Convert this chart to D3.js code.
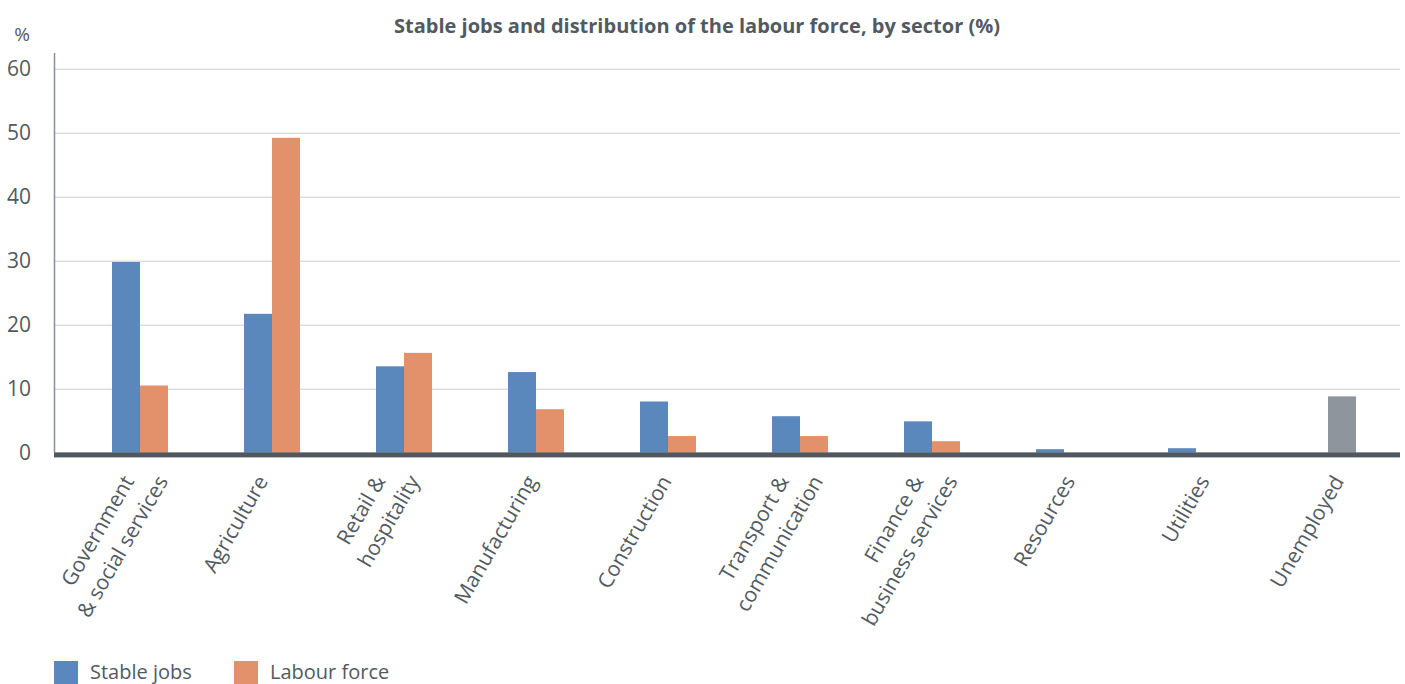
<!DOCTYPE html>
<html>
<head>
<meta charset="utf-8">
<script src="https://cdn.jsdelivr.net/npm/d3@7"></script>
<style>
  html, body { margin: 0; padding: 0; background: #ffffff; }
  svg { display: block; font-family: "Open Sans", "Noto Sans", sans-serif; }
</style>
</head>
<body>
<svg id="chart" width="1405" height="684"></svg>
<script>
// ---- data ----
const categories = ["Government & social services", "Agriculture", "Retail & hospitality", "Manufacturing",
  "Construction", "Transport & communication", "Finance & business services", "Resources", "Utilities", "Unemployed"];
const categoryLines = [["Government", "& social services"], ["Agriculture"], ["Retail &", "hospitality"], ["Manufacturing"],
  ["Construction"], ["Transport &", "communication"], ["Finance &", "business services"], ["Resources"], ["Utilities"], ["Unemployed"]];
const stableJobs  = [29.8, 21.7, 13.5, 12.6, 8.0, 5.7, 4.9, 0.55, 0.7, 0];
const labourForce = [10.5, 49.2, 15.6, 6.8, 2.6, 2.6, 1.8, 0, 0, 8.8];
const seriesNames = ["Stable jobs", "Labour force"];
const yTicks = [0, 10, 20, 30, 40, 50, 60];
const titleText = "Stable jobs and distribution of the labour force, by sector (%)";
const unitLabel = "%";
const highlightCategory = "Unemployed";

// ---- styles ----
const colors = { "Stable jobs": "#5a88bd", "Labour force": "#e3916a" };
const highlightColor = "#8e959c";
const textColor = "#525a61";

const svg = d3.select("#chart");
const plotLeft = 55, plotRight = 1400, plotTop = 68.7, plotBottom = 452.7;

const y = d3.scaleLinear().domain([0, 60]).range([plotBottom, plotTop]);
const xBars = d3.scaleBand().domain(categories).range([74, 1394]).padding(0);
const xSeries = d3.scaleBand().domain(seriesNames).range([0, xBars.bandwidth()]).paddingInner(0).paddingOuter(1.357);
const xLabels = d3.scaleBand().domain(categories).range([plotLeft, plotRight]).padding(0);

// title
svg.append("text").attr("x", 697).attr("y", 33).attr("text-anchor", "middle")
  .attr("font-size", 20).attr("font-weight", "bold").attr("fill", textColor).text(titleText);

// gridlines
const yAxis = d3.axisLeft(y).tickValues(yTicks).tickSize(-(plotRight - plotLeft)).tickFormat(d3.format("d")).tickPadding(24);
const gy = svg.append("g").attr("transform", `translate(${plotLeft},0)`).call(yAxis);
gy.select(".domain").remove();
gy.selectAll(".tick line").attr("stroke", "#dcdde1").attr("stroke-width", 1.5);
gy.selectAll(".tick text").attr("font-size", 21).attr("fill", textColor).attr("font-family", "Open Sans");

// unit label
svg.append("text").attr("x", 22).attr("y", 41).attr("text-anchor", "middle")
  .attr("font-size", 19).attr("fill", textColor).text(unitLabel);

// bars
const rows = categories.map((c, i) => ({ cat: c, values: [
  { s: "Stable jobs", v: stableJobs[i] }, { s: "Labour force", v: labourForce[i] }] }));
const groups = svg.append("g").selectAll("g").data(rows).join("g")
  .attr("transform", d => `translate(${xBars(d.cat)},0)`);
groups.selectAll("rect").data(d => d.values.map(v => ({ ...v, cat: d.cat }))).join("rect")
  .attr("x", d => xSeries(d.s)).attr("width", xSeries.bandwidth())
  .attr("y", d => y(d.v)).attr("height", d => y(0) - y(d.v))
  .attr("fill", d => d.cat === highlightCategory ? highlightColor : colors[d.s]);

// y axis line
svg.append("line").attr("x1", 54.5).attr("x2", 54.5).attr("y1", 53).attr("y2", plotBottom)
  .attr("stroke", "#8a8f95").attr("stroke-width", 1.5);

// baseline
svg.append("rect").attr("x", 54).attr("y", y(0) - 0.3).attr("width", plotRight - 54).attr("height", 5)
  .attr("fill", "#50585f");

// category labels (Excel-like: keep labels right of the axis edge)
const angle = -60;
const minLabelLeft = 54;
const labelG = svg.append("g");
categoryLines.forEach((lines, i) => {
  const cx = xLabels(categories[i]) + xLabels.bandwidth() / 2;
  const n = lines.length;
  const g = labelG.append("g");
  lines.forEach((line, j) => {
    const dx = (j - (n - 1) / 2) * 34;
    g.append("text")
      .attr("transform", `translate(${cx + 12 + dx},481) rotate(${angle})`)
      .attr("text-anchor", "end").attr("font-size", 21).attr("fill", textColor)
      .text(line);
  });
  const left = g.node().getBoundingClientRect().left;
  if (left < minLabelLeft) g.attr("transform", `translate(${minLabelLeft - left},0)`);
});

// legend
const legend = svg.append("g");
const legendX = [54, 234];
seriesNames.forEach((s, i) => {
  legend.append("rect").attr("x", legendX[i]).attr("y", 661).attr("width", 24).attr("height", 24).attr("fill", colors[s]);
  legend.append("text").attr("x", legendX[i] + 36).attr("y", 679).attr("font-size", 20).attr("fill", textColor).text(s);
});
</script>
</body>
</html>
